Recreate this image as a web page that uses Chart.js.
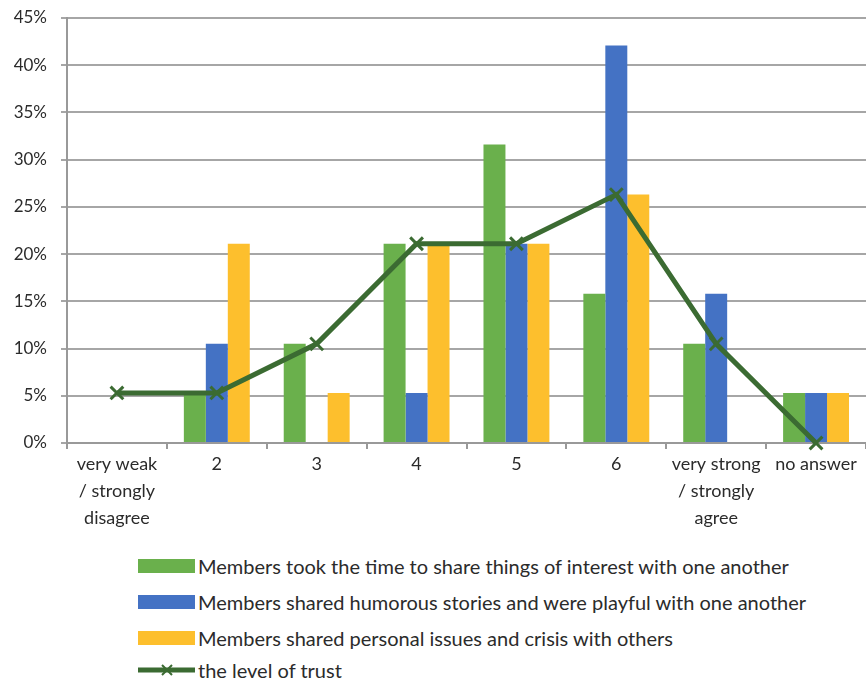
<!DOCTYPE html>
<html>
<head>
<meta charset="utf-8">
<script src="https://cdn.jsdelivr.net/npm/chart.js@4"></script>
<style>
  body { margin: 0; background: #fff; font-family: Lato, "Open Sans", sans-serif; overflow: hidden; }
  #wrap { position: relative; width: 878px; height: 540px; }
  #legend { position: absolute; left: 138px; top: 548px; font-size: 20px; color: #2b2b2b; }
  #legend .item { display: flex; align-items: center; height: 36px; white-space: nowrap; }
  #legend .box { width: 57px; height: 14px; margin-right: 3px; }
</style>
</head>
<body>
<div id="wrap"><canvas id="myChart"></canvas></div>
<div id="legend"></div>
<script>
// categories (x axis)
var categories = [
    ["very weak", "/ strongly", "disagree"], "2", "3", "4", "5", "6",
    ["very strong", "/ strongly", "agree"], "no answer"
];
// series, in percent
var shareInterest = [0, 5.3, 10.5, 21.1, 31.6, 15.8, 10.5, 5.3];
var humorous = [0, 10.5, 0, 5.3, 21.1, 42.1, 15.8, 5.3];
var personalIssues = [0, 21.1, 5.3, 21.1, 21.1, 26.3, 0, 5.3];
var trustLevel = [5.3, 5.3, 10.5, 21.1, 21.1, 26.3, 10.5, 0];
var seriesNames = [
    "Members took the time to share things of interest with one another",
    "Members shared humorous stories and were playful with one another",
    "Members shared personal issues and crisis with others",
    "the level of trust"
];
var yTicks = [0, 5, 10, 15, 20, 25, 30, 35, 40, 45];

var green = "#6ab04c";
var blue = "#4472c4";
var orange = "#fdbf2d";
var darkGreen = "#3b6b32";

var ctx = document.getElementById("myChart");
var chart = new Chart(ctx, {
    type: 'bar',
    data: {
        labels: categories,
        datasets: [{
            type: 'line',
            label: seriesNames[3],
            data: trustLevel,
            borderColor: darkGreen,
            backgroundColor: darkGreen,
            borderWidth: 5,
            pointStyle: 'crossRot',
            pointRadius: 9,
            pointBorderWidth: 3,
            pointBorderColor: darkGreen,
            tension: 0,
            clip: false,
            order: 0
        }, {
            label: seriesNames[0],
            data: shareInterest,
            backgroundColor: green,
            order: 1
        }, {
            label: seriesNames[1],
            data: humorous,
            backgroundColor: blue,
            order: 1
        }, {
            label: seriesNames[2],
            data: personalIssues,
            backgroundColor: orange,
            order: 1
        }]
    },
    options: {
        responsive: true,
        maintainAspectRatio: false,
        animation: false,
        layout: { padding: { top: 18, right: 0, left: 0, bottom: 0 } },
        datasets: {
            bar: { categoryPercentage: 0.66, barPercentage: 1.0 }
        },
        plugins: {
            legend: { display: false },
            tooltip: { enabled: false }
        },
        scales: {
            x: {
                grid: {
                    offset: true,
                    drawOnChartArea: false,
                    drawTicks: true,
                    tickLength: 6,
                    color: "#999",
                    lineWidth: 2
                },
                border: { color: "#999", width: 2 },
                ticks: {
                    color: "#2b2b2b",
                    font: { family: "Lato", size: 18, lineHeight: 1.5 },
                    maxRotation: 0,
                    autoSkip: false,
                    padding: 2
                },
                afterFit: function (scale) { scale.height = 97; }
            },
            y: {
                min: 0,
                max: 45,
                afterBuildTicks: function (scale) {
                    scale.ticks = yTicks.map(function (v) { return { value: v }; });
                },
                grid: { color: "#a6a6a6", lineWidth: 2, drawTicks: true, tickLength: 6 },
                border: { color: "#999", width: 2 },
                ticks: {
                    color: "#2b2b2b",
                    font: { family: "Lato", size: 17 },
                    padding: 14,
                    callback: function (v) { return v + "%"; }
                },
                afterFit: function (scale) {
                    scale.width = 67;
                    scale.paddingTop = 0;
                    scale.paddingBottom = 0;
                }
            }
        }
    }
});

// legend below the chart, built from the chart datasets
var legendDiv = document.getElementById("legend");
var legendOrder = [1, 2, 3, 0];
legendOrder.forEach(function (i) {
    var ds = chart.data.datasets[i];
    var item = document.createElement("div");
    item.className = "item";
    var sym;
    if (ds.type === 'line') {
        sym = document.createElement("canvas");
        sym.width = 57; sym.height = 16;
        sym.style.marginRight = "3px";
        var c = sym.getContext("2d");
        c.strokeStyle = ds.borderColor;
        c.lineWidth = 5;
        c.beginPath(); c.moveTo(0, 8); c.lineTo(57, 8); c.stroke();
        c.lineWidth = 2;
        c.beginPath();
        c.moveTo(24, 3); c.lineTo(34, 13);
        c.moveTo(34, 3); c.lineTo(24, 13);
        c.stroke();
        item.style.height = "28px";
    } else {
        sym = document.createElement("div");
        sym.className = "box";
        sym.style.background = ds.backgroundColor;
    }
    item.appendChild(sym);
    var txt = document.createElement("span");
    txt.textContent = ds.label;
    item.appendChild(txt);
    legendDiv.appendChild(item);
});
</script>
</body>
</html>
